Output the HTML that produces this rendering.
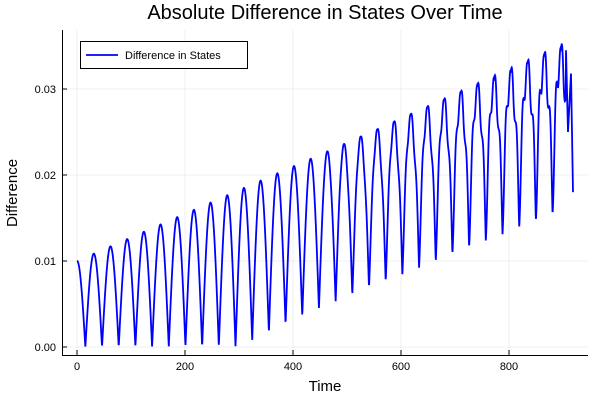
<!DOCTYPE html>
<html><head><style>body{margin:0;background:#fff}svg{display:block;font-family:"Liberation Sans",sans-serif}</style></head>
<body>
<svg id="s" width="600" height="400" xmlns="http://www.w3.org/2000/svg">
<rect width="600" height="400" fill="#fff"/>
<g stroke="#000" stroke-opacity="0.08" stroke-width="0.8">
<line x1="77" y1="30" x2="77" y2="355"/><line x1="185" y1="30" x2="185" y2="355"/><line x1="293" y1="30" x2="293" y2="355"/><line x1="401" y1="30" x2="401" y2="355"/><line x1="509" y1="30" x2="509" y2="355"/>
<line x1="62" y1="347" x2="588" y2="347"/><line x1="62" y1="261" x2="588" y2="261"/><line x1="62" y1="175" x2="588" y2="175"/><line x1="62" y1="89" x2="588" y2="89"/>
</g>
<g stroke="#000" stroke-width="1">
<line x1="62" y1="355.5" x2="588" y2="355.5"/><line x1="62.5" y1="30" x2="62.5" y2="356"/>
<line x1="77" y1="355" x2="77" y2="350"/><line x1="185" y1="355" x2="185" y2="350"/><line x1="293" y1="355" x2="293" y2="350"/><line x1="401" y1="355" x2="401" y2="350"/><line x1="509" y1="355" x2="509" y2="350"/>
<line x1="62" y1="347" x2="67" y2="347"/><line x1="62" y1="261" x2="67" y2="261"/><line x1="62" y1="175" x2="67" y2="175"/><line x1="62" y1="89" x2="67" y2="89"/>
</g>
<g font-size="11" fill="#000">
<text x="77" y="370" text-anchor="middle">0</text><text x="185" y="370" text-anchor="middle">200</text><text x="293" y="370" text-anchor="middle">400</text><text x="401" y="370" text-anchor="middle">600</text><text x="509" y="370" text-anchor="middle">800</text>
<text x="56" y="351" text-anchor="end">0.00</text><text x="56" y="265" text-anchor="end">0.01</text><text x="56" y="179" text-anchor="end">0.02</text><text x="56" y="93" text-anchor="end">0.03</text>
</g>
<text x="325" y="391" font-size="15" text-anchor="middle">Time</text>
<text transform="translate(17,193) rotate(-90)" font-size="15" text-anchor="middle">Difference</text>
<text x="325" y="19" font-size="20" text-anchor="middle">Absolute Difference in States Over Time</text>
<path id="p" fill="none" stroke="#0000ff" stroke-width="1.8"/>
<rect x="80.5" y="41.5" width="167" height="27" fill="#fff" stroke="#000" stroke-width="1"/>
<line x1="86" y1="55" x2="118" y2="55" stroke="#0000ff" stroke-width="1.8"/>
<text x="125" y="59" font-size="11">Difference in States</text>
</svg>
<script>
var T=30.9,d="";
function Y(v){return (347-8600*v).toFixed(2);}
for(var t=0;t<=905;t+=0.5){
var A=0.01+0.0000275*t,B=Math.max(0,(t-300)*0.00003);
var w=0.0025*Math.max(0,t-450)/450*Math.sin(6*Math.PI*t/T+1);
var v=B+(A-B)*Math.abs(Math.cos(Math.PI*t/T))+w*Math.min(1,Math.abs(Math.sin(Math.PI*t/T))*2);
if(v<0)v=0;
d+=(t?"L":"M")+(77+0.54*t).toFixed(2)+","+Y(v);
}
d+="L566,"+Y(0.0345)+"L568,"+Y(0.025)+"L571,"+Y(0.0318)+"L573,"+Y(0.018);
document.getElementById("p").setAttribute("d",d);
</script>
</body></html>
